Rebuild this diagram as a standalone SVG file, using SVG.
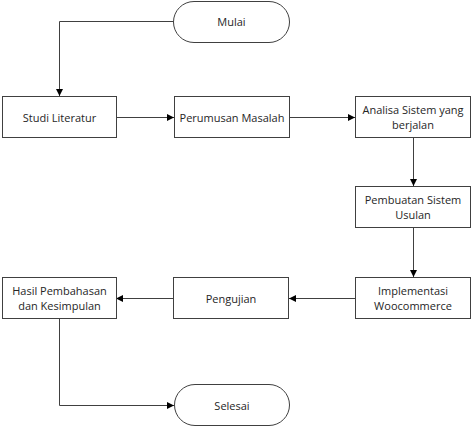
<svg xmlns="http://www.w3.org/2000/svg" width="474" height="427" viewBox="0 0 474 427">
<style>
.box{fill:#fff;stroke:#404040;stroke-width:1}
.t{font-family:"Open Sans","Liberation Sans",sans-serif;font-size:11px;fill:#262626;text-anchor:middle;dominant-baseline:central}
.c{fill:none;stroke:#404040;stroke-width:1}
</style>
<defs>
<marker id="a" viewBox="0 0 10 10" refX="10" refY="5" markerWidth="7" markerHeight="7" orient="auto" markerUnits="userSpaceOnUse">
<path d="M0,0 L10,5 L0,10 z" fill="#000"/>
</marker>
</defs>
<rect width="474" height="427" fill="#fff"/>
<g id="connectors">
<path class="c" d="M173.5,21.5 H59.5 V96" marker-end="url(#a)"/>
<path class="c" d="M116,117.5 H174" marker-end="url(#a)"/>
<path class="c" d="M289,117.5 H355" marker-end="url(#a)"/>
<path class="c" d="M413.5,137 V186" marker-end="url(#a)"/>
<path class="c" d="M413.5,228 V277" marker-end="url(#a)"/>
<path class="c" d="M355,298.5 H289" marker-end="url(#a)"/>
<path class="c" d="M173,298.5 H116" marker-end="url(#a)"/>
<path class="c" d="M59.5,319 V405.5 H174" marker-end="url(#a)"/>
</g>
<g id="mulai">
<rect class="box" x="173.5" y="1.5" width="116" height="41" rx="20.5" ry="20.5"/>
<text class="t" x="231.5" y="21.5">Mulai</text>
</g>
<g id="studi">
<rect class="box" x="2.5" y="96.5" width="114" height="41"/>
<text class="t" x="59.5" y="117">Studi Literatur</text>
</g>
<g id="perumusan">
<rect class="box" x="174.5" y="96.5" width="115" height="41"/>
<text class="t" x="232" y="117">Perumusan Masalah</text>
</g>
<g id="analisa">
<rect class="box" x="355.5" y="96.5" width="115" height="41"/>
<text class="t" x="413" y="109.5">Analisa Sistem yang</text>
<text class="t" x="413" y="124">berjalan</text>
</g>
<g id="pembuatan">
<rect class="box" x="355.5" y="186.5" width="115" height="41"/>
<text class="t" x="413" y="199.5">Pembuatan Sistem</text>
<text class="t" x="413" y="214">Usulan</text>
</g>
<g id="implementasi">
<rect class="box" x="355.5" y="277.5" width="115" height="41"/>
<text class="t" x="413" y="290.5">Implementasi</text>
<text class="t" x="413" y="305">Woocommerce</text>
</g>
<g id="pengujian">
<rect class="box" x="173.5" y="277.5" width="115" height="41"/>
<text class="t" x="231" y="298">Pengujian</text>
</g>
<g id="hasil">
<rect class="box" x="2.5" y="277.5" width="114" height="41"/>
<text class="t" x="59.5" y="290.5">Hasil Pembahasan</text>
<text class="t" x="59.5" y="305">dan Kesimpulan</text>
</g>
<g id="selesai">
<rect class="box" x="174.5" y="384.5" width="115" height="41" rx="20.5" ry="20.5"/>
<text class="t" x="232" y="405">Selesai</text>
</g>
</svg>
